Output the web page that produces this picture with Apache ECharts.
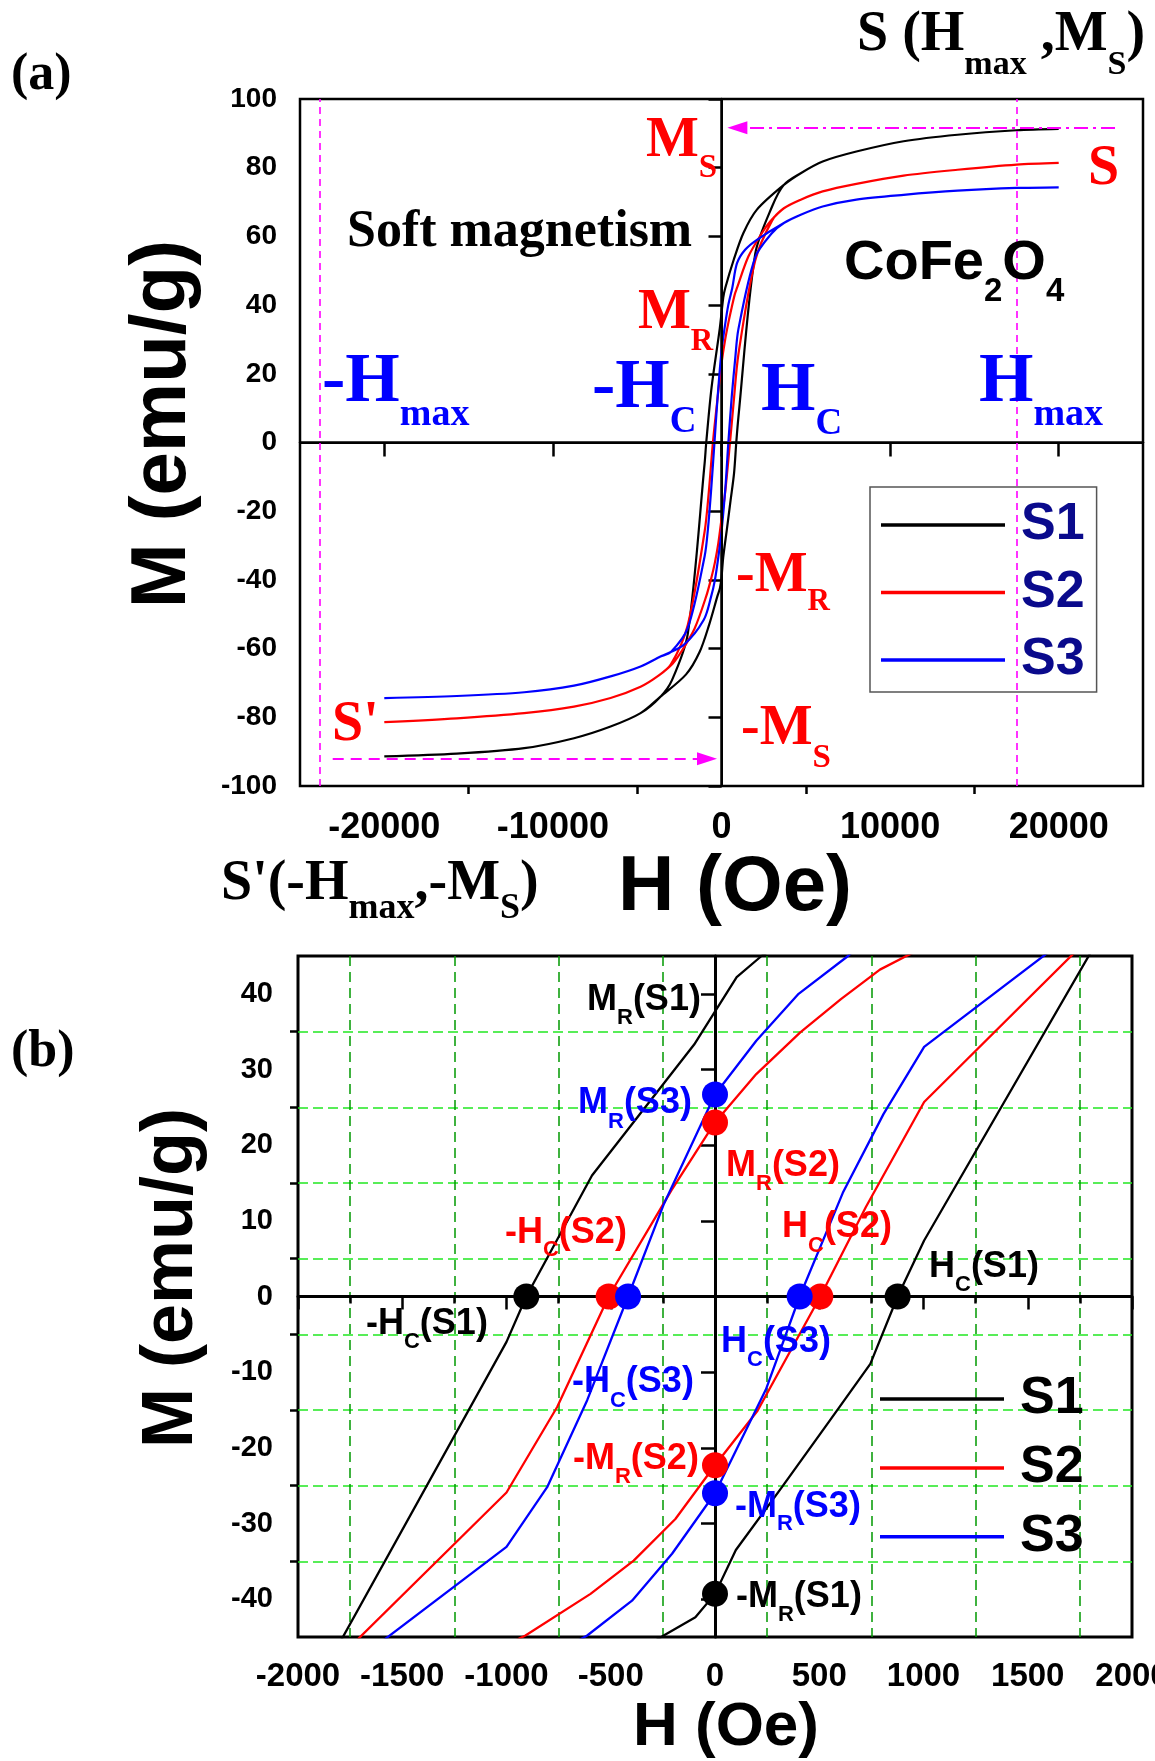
<!DOCTYPE html>
<html><head><meta charset="utf-8">
<script src="https://cdn.jsdelivr.net/npm/echarts@6/dist/echarts.min.js"></script>
<style>html,body{margin:0;padding:0;background:#fff}#c{width:1155px;height:1761px}</style>
</head><body><div id="c"></div>
<script>
// ---------- data (H in Oe, M in emu/g) ----------
const S1_desc = [[20000,91.3],[17500,90.9],[14000,89.6],[10800,87.7],[8000,84.7],[6000,81.8],[4700,78.4],[3700,75.0],[2100,67.8],[1300,61.0],[725,53.2],[223,45.0],[104,42.2],[-100,33.3],[-590,16.0],[-905,0],[-1000,-6.0],[-2000,-55.7],[-2930,-69.1],[-3620,-74.0],[-4800,-78.8],[-6580,-82.7],[-8750,-86.1],[-11700,-89.0],[-15700,-90.6],[-20000,-91.4]];
const S1_asc = [[-20000,-91.4],[-15700,-90.6],[-11700,-89.0],[-8750,-86.1],[-6580,-82.7],[-4800,-78.8],[-3620,-74.0],[-2100,-67.5],[-1300,-61.0],[-730,-53.0],[-246,-44.8],[-94,-42.4],[0,-39.3],[100,-33.5],[321,-25.2],[540,-16.8],[745,-8.9],[876,0],[1003,7.4],[2000,54.9],[3000,68.7],[3700,75.0],[4700,78.4],[6000,81.8],[8000,84.7],[10800,87.7],[14000,89.6],[17500,90.9],[20000,91.3]];
const S2_desc = [[20000,81.4],[17500,80.9],[14000,79.4],[10800,77.7],[8000,75.3],[6000,73.1],[4700,70.7],[3700,68.2],[2900,64.4],[2400,61.0],[1600,54.2],[918,45.0],[791,43.2],[604,39.3],[409,34.9],[198,29.4],[0,23.0],[-210,14.0],[-510,0],[-757,-14.6],[-1000,-25.9],[-2000,-53.1],[-3000,-64.6],[-3800,-68.1],[-4800,-71.1],[-6580,-74.4],[-8750,-76.9],[-11700,-78.8],[-15700,-80.3],[-20000,-81.4]];
const S2_asc = [[-20000,-81.4],[-15700,-80.3],[-11700,-78.8],[-8750,-76.9],[-6580,-74.4],[-4800,-71.1],[-3800,-68.1],[-2900,-64.4],[-2400,-61.0],[-1600,-54.2],[-909,-44.8],[-597,-39.3],[-390,-34.9],[-190,-29.4],[0,-22.3],[204,-15.1],[505,0],[723,11.8],[1003,25.7],[2000,53.0],[3000,64.6],[3700,68.2],[4700,70.7],[6000,73.1],[8000,75.3],[10800,77.7],[14000,79.4],[17500,80.9],[20000,81.4]];
const S3_desc = [[20000,74.3],[17500,74.1],[14000,73.3],[10800,72.1],[8000,70.7],[6000,68.7],[4700,66.3],[3700,63.9],[2100,59.0],[1400,56.1],[920,52.2],[638,45.0],[401,40.0],[198,33.8],[0,26.7],[-244,12.3],[-417,0],[-613,-13.7],[-805,-25.2],[-1000,-33.1],[-2000,-54.0],[-3000,-61.0],[-3620,-62.3],[-4800,-65.2],[-6580,-68.1],[-8750,-70.8],[-11700,-72.7],[-15700,-73.8],[-20000,-74.4]];
const S3_asc = [[-20000,-74.4],[-15700,-73.8],[-11700,-72.7],[-8750,-70.8],[-6580,-68.1],[-4800,-65.2],[-3620,-62.3],[-2240,-58.9],[-1050,-51.6],[-613,-44.8],[-398,-40.2],[-206,-34.0],[0,-26.0],[244,-12.3],[406,0],[613,13.7],[808,24.1],[1003,33.0],[2000,53.9],[3000,61.0],[3700,63.9],[4700,66.3],[6000,68.7],[8000,70.7],[10800,72.1],[14000,73.3],[17500,74.1],[20000,74.3]];
// marked points (Hc, -Hc, Mr, -Mr)
const S1_points = [[-905,0],[876,0],[0,-39.3]];
const S2_points = [[-510,0],[505,0],[0,23.0],[0,-22.3]];
const S3_points = [[-417,0],[406,0],[0,26.7],[0,-26.0]];
// guide markers in panel (a)
const negHmaxGuide = -23800;
const HmaxGuide = 17500;
const MsArrow = [[23340,91.6],[940,91.6]];
const negMsArrow = [[-23060,-92.1],[-860,-92.1]];
// ticks
const xTicksA = [-20000,-10000,0,10000,20000];
const xMinorA = [-15000,-5000,5000,15000];
const yTicksB = [-40,-30,-20,-10,0,10,20,30,40];
const yMinorB = [-35,-25,-15,-5,5,15,25,35];
const names = ['S1','S2','S3'];

// ---------- styling ----------
const FS = '"Liberation Sans", Arial, sans-serif';
const FR = '"Liberation Serif", "Times New Roman", serif';
const RED = '#ff0000', BLUE = '#0000ff', BLK = '#000000';
const colors = [BLK, RED, BLUE];

function lbl(x, midY, parts, color, fam, F, f, drop) {
  f = f || F * 0.6; drop = drop || 0;
  const Ls = Math.max(F, drop + (F + f) / 2);
  return {
    type: 'text', x: x, y: midY - F / 2, z: 100,
    style: {
      text: parts.map(p => '{' + (p[1] ? 's' : 'm') + '|' + p[0] + '}').join(''),
      align: 'left', verticalAlign: 'top',
      rich: {
        m: {fontSize: F, lineHeight: F, fontWeight: 'bold', fontFamily: fam, fill: color, verticalAlign: 'top'},
        s: {fontSize: f, lineHeight: Ls, fontWeight: 'bold', fontFamily: fam, fill: color, verticalAlign: 'bottom'}
      }
    }
  };
}
function title(x, y, text, size, rot) {
  return {type: 'text', x: x, y: y, rotation: rot ? Math.PI / 2 : 0, z: 100,
    style: {text: text, fontSize: size, fontWeight: 'bold', fontFamily: FS, fill: BLK, align: 'center', verticalAlign: 'middle'}};
}

const graphics = [
  lbl(11, 76, [['(a)',0]], BLK, FR, 52),
  lbl(11, 1053, [['(b)',0]], BLK, FR, 52),
  lbl(857, 36, [['S (H',0],['max',1],[' ,M',0],['S',1],[')',0]], BLK, FR, 56, 34, 29),
  lbl(646, 141.5, [['M',0],['S',1]], RED, FR, 56, 33, 26.5),
  lbl(1088, 170, [['S',0]], RED, FR, 56),
  lbl(347, 233, [['Soft magnetism',0]], BLK, FR, 52),
  lbl(844, 264, [['CoFe',0],['2',1],['O',0],['4',1]], BLK, FS, 56, 33, 28),
  lbl(638, 313.5, [['M',0],['R',1]], RED, FR, 56, 31, 28.5),
  lbl(322, 382.5, [['-H',0],['max',1]], BLUE, FR, 70, 38, 32.5),
  lbl(592, 389, [['-H',0],['C',1]], BLUE, FR, 70, 37, 33),
  lbl(761, 392, [['H',0],['C',1]], BLUE, FR, 70, 37, 32),
  lbl(979, 383, [['H',0],['max',1]], BLUE, FR, 70, 38, 32),
  lbl(736, 577, [['-M',0],['R',1]], RED, FR, 56, 31, 25),
  lbl(741, 730, [['-M',0],['S',1]], RED, FR, 56, 33, 28),
  lbl(332, 726, [["S'",0]], RED, FR, 56),
  lbl(221, 885, [["S'(-H",0],['max',1],[',-M',0],['S',1],[')',0]], BLK, FR, 56, 36, 24),
  // panel (b)
  lbl(587, 1000, [['M',0],['R',1],['(S1)',0]], BLK, FS, 36, 22, 18),
  lbl(578, 1103.5, [['M',0],['R',1],['(S3)',0]], BLUE, FS, 36, 22, 18),
  lbl(726, 1166, [['M',0],['R',1],['(S2)',0]], RED, FS, 36, 22, 18),
  lbl(505, 1233, [['-H',0],['C',1],['(S2)',0]], RED, FS, 36, 22, 17),
  lbl(782, 1227.5, [['H',0],['C',1],['(S2)',0]], RED, FS, 36, 22, 18),
  lbl(929, 1267, [['H',0],['C',1],['(S1)',0]], BLK, FS, 36, 22, 18),
  lbl(366, 1324, [['-H',0],['C',1],['(S1)',0]], BLK, FS, 36, 22, 18),
  lbl(721, 1342, [['H',0],['C',1],['(S3)',0]], BLUE, FS, 36, 22, 18),
  lbl(572, 1382.5, [['-H',0],['C',1],['(S3)',0]], BLUE, FS, 36, 22, 18),
  lbl(573, 1459, [['-M',0],['R',1],['(S2)',0]], RED, FS, 36, 22, 18),
  lbl(735, 1507, [['-M',0],['R',1],['(S3)',0]], BLUE, FS, 36, 22, 17),
  lbl(736, 1597, [['-M',0],['R',1],['(S1)',0]], BLK, FS, 36, 22, 18),
  title(163, 424, 'M (emu/g)', 78, true),
  title(735, 888, 'H (Oe)', 78, false),
  title(172, 1278, 'M (emu/g)', 72, true),
  title(726, 1728, 'H (Oe)', 62, false)
];

const tickFont = {fontWeight: 'bold', fontFamily: FS, color: BLK};
const fmt = v => String(v);

const xAxis = [
  {gridIndex: 0, type: 'value', min: -25000, max: 25000, position: 'bottom',
   axisLine: {lineStyle: {color: BLK, width: 2.5}},
   axisTick: {customValues: xTicksA, length: 14, lineStyle: {width: 2.5, color: BLK}},
   axisLabel: Object.assign({customValues: xTicksA, fontSize: 36, margin: 24, formatter: fmt}, tickFont),
   splitLine: {show: false}},
  {gridIndex: 0, type: 'value', min: -25000, max: 25000, position: 'bottom',
   axisLine: {show: false},
   axisTick: {customValues: xMinorA, length: 8, lineStyle: {width: 2.5, color: BLK}},
   axisLabel: {show: false}, splitLine: {show: false}},
  {gridIndex: 1, type: 'value', min: -2000, max: 2000, interval: 500, position: 'bottom',
   axisLine: {lineStyle: {color: BLK, width: 3}},
   axisTick: {length: 13, lineStyle: {width: 2.5, color: BLK}},
   minorTick: {show: true, splitNumber: 2, length: 7, lineStyle: {width: 2.5, color: BLK}},
   minorSplitLine: {show: true, lineStyle: {color: '#009900', width: 1.5, type: [10, 6]}},
   axisLabel: Object.assign({fontSize: 33, margin: 23, formatter: fmt, showMaxLabel: true, showMinLabel: true}, tickFont),
   splitLine: {show: false}}
];
const yAxis = [
  {gridIndex: 0, type: 'value', min: -100, max: 100, interval: 20, position: 'left',
   axisLine: {lineStyle: {color: BLK, width: 2.5}},
   axisTick: {length: 13, lineStyle: {width: 2.5, color: BLK}},
   axisLabel: Object.assign({fontSize: 28, margin: 23, formatter: fmt}, tickFont),
   splitLine: {show: false}},
  {gridIndex: 1, type: 'value', min: -45, max: 45, position: 'left',
   axisLine: {lineStyle: {color: BLK, width: 3}},
   axisTick: {customValues: yTicksB, length: 14, lineStyle: {width: 2.5, color: BLK}},
   axisLabel: Object.assign({customValues: yTicksB, fontSize: 29, margin: 25, formatter: fmt}, tickFont),
   splitLine: {show: false}},
  {gridIndex: 1, type: 'value', min: -45, max: 45, position: 'left', offset: 0,
   axisLine: {show: false},
   axisTick: {customValues: yMinorB, length: 8, lineStyle: {width: 2.5, color: BLK}},
   axisLabel: {show: false},
   splitLine: {show: true, lineStyle: {color: '#22e822', width: 1.5, type: [10, 5]}}}
];

const loops = [[S1_desc, S1_asc], [S2_desc, S2_asc], [S3_desc, S3_asc]];
const pts = [S1_points, S2_points, S3_points];
const series = [];
series.push({type: 'line', xAxisIndex: 0, yAxisIndex: 0, data: [], silent: true,
  markLine: {silent: true, symbol: ['none', 'none'], label: {show: false}, animation: false,
    data: [
      {xAxis: 0, lineStyle: {color: BLK, width: 2, type: 'solid'}},
      {yAxis: 0, lineStyle: {color: BLK, width: 2, type: 'solid'}},
      {xAxis: negHmaxGuide, lineStyle: {color: '#ff00ff', width: 1.6, type: [7, 5]}},
      {xAxis: HmaxGuide, lineStyle: {color: '#ff00ff', width: 1.6, type: [7, 5]}}
    ]}});
series.push({type: 'line', xAxisIndex: 0, yAxisIndex: 0, data: [], silent: true,
  markLine: {silent: true, symbol: ['none', 'triangle'], symbolSize: [13, 20], label: {show: false}, animation: false,
    data: [
      [{coord: MsArrow[0], lineStyle: {color: '#ff00ff', width: 2, type: [14, 5, 3, 5]}, itemStyle: {color: '#ff00ff'}}, {coord: MsArrow[1]}],
      [{coord: negMsArrow[0], lineStyle: {color: '#ff00ff', width: 2, type: [11, 7]}, itemStyle: {color: '#ff00ff'}}, {coord: negMsArrow[1]}]
    ]}});
series.push({type: 'line', xAxisIndex: 2, yAxisIndex: 1, data: [], silent: true,
  markLine: {silent: true, symbol: ['none', 'none'], label: {show: false}, animation: false,
    data: [
      {xAxis: 0, lineStyle: {color: BLK, width: 2.5, type: 'solid'}},
      {yAxis: 0, lineStyle: {color: BLK, width: 2.8, type: 'solid'}}
    ]}});
loops.forEach((lp, i) => {
  const d = lp[0].concat(lp[1]);
  series.push({name: names[i], type: 'line', xAxisIndex: 0, yAxisIndex: 0, data: d, symbol: 'none', smooth: 0.3,
    lineStyle: {color: colors[i], width: 2.2}, itemStyle: {color: colors[i]}, z: 3});
  series.push({name: names[i], type: 'line', xAxisIndex: 2, yAxisIndex: 1, data: d, symbol: 'none', clip: true,
    lineStyle: {color: colors[i], width: 2.3}, itemStyle: {color: colors[i]}, z: 3});
});
pts.forEach((p, i) => {
  series.push({name: names[i] + ' points', type: 'scatter', xAxisIndex: 2, yAxisIndex: 1, data: p,
    symbolSize: 26, itemStyle: {color: colors[i], opacity: 1}, z: 5});
});

const chart = echarts.init(document.getElementById('c'), null, {renderer: 'canvas'});
chart.setOption({
  animation: false,
  backgroundColor: '#fff',
  grid: [
    {left: 300, top: 99, width: 843, height: 687, show: true, borderColor: BLK, borderWidth: 2.5, backgroundColor: 'transparent', containLabel: false, outerBoundsMode: 'none'},
    {left: 298, top: 956, width: 834, height: 681, show: true, borderColor: BLK, borderWidth: 3, backgroundColor: 'transparent', containLabel: false, outerBoundsMode: 'none'}
  ],
  xAxis: xAxis,
  yAxis: yAxis,
  legend: [
    {data: names, orient: 'vertical', left: 870, top: 487, icon: 'rect', itemWidth: 124, itemHeight: 3.5, itemGap: 7.5,
     padding: [8, 12, 2, 11], borderColor: '#555', borderWidth: 1.5, selectedMode: false,
     textStyle: {fontSize: 52, lineHeight: 60, fontWeight: 'bold', fontFamily: FS, color: '#0a0a8c', padding: [0, 0, 0, 11]}},
    {data: names, orient: 'vertical', left: 880, top: 1369, icon: 'rect', itemWidth: 124, itemHeight: 3.5, itemGap: 8.9,
     padding: 0, selectedMode: false,
     textStyle: {fontSize: 52, lineHeight: 60, fontWeight: 'bold', fontFamily: FS, color: BLK, padding: [0, 0, 0, 11]}}
  ],
  graphic: graphics,
  series: series
});
</script></body></html>
